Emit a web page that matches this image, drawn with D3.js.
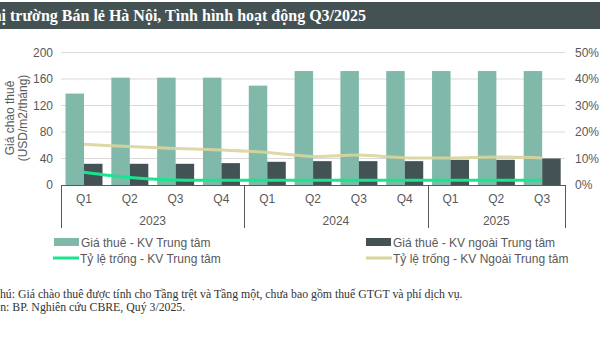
<!DOCTYPE html>
<html><head><meta charset="utf-8">
<script src="https://cdn.jsdelivr.net/npm/d3@7"></script>
<style>body{margin:0;background:#fff;}svg{display:block;}</style>
</head><body>
<svg id="c" width="600" height="338"></svg>
<script>
const quarters = ["Q1","Q2","Q3","Q4","Q1","Q2","Q3","Q4","Q1","Q2","Q3"];
const years = ["2023","2024","2025"];
const yearCounts = [4,4,3];
const rentCBD = [138,162,162,162,150,172,172,172,172,172,172];
const rentNonCBD = [32,32,32,33,35,36,36,36,38,38,40];
const vacCBD = [4.8,2.8,1.9,1.8,1.8,1.8,1.8,1.8,1.8,1.8,1.8];
const vacNonCBD = [15.4,14.5,13.8,13.2,12.3,10.8,11.3,10.3,10.2,10.6,10.2];
const leftTicks = [0,40,80,120,160,200];
const rightTicks = [0,10,20,30,40,50];
const legendLabels = ["Giá thuê - KV Trung tâm","Giá thuê - KV ngoài Trung tâm","Tỷ lệ trống - KV Trung tâm","Tỷ lệ trống - KV Ngoài Trung tâm"];
const title = "Thị trường Bán lẻ Hà Nội, Tình hình hoạt động Q3/2025";
const notes = ["Ghi chú: Giá chào thuê được tính cho Tầng trệt và Tầng một, chưa bao gồm thuế GTGT và phí dịch vụ.","Nguồn: BP. Nghiên cứu CBRE, Quý 3/2025."];

const C = {green:"#80B9A9", dark:"#435254", gline:"#1AE48D", bline:"#D9D49B", text:"#595959", axis:"#595959", grid:"#D9D9D9"};
const svg = d3.select("#c");
const L = 61, R = 565, T = 52.5, B = 185;

// title bar
svg.append("rect").attr("x",0).attr("y",2).attr("width",600).attr("height",27).attr("fill","#455254");
svg.append("text").attr("x",-18).attr("y",21).attr("fill","#fff")
  .attr("font-family","Liberation Serif").attr("font-weight","bold").attr("font-size",16).text(title);

const idx = d3.range(quarters.length);
const x = d3.scaleBand().domain(idx).range([L,R]).paddingInner(0).paddingOuter(0);
const y = d3.scaleLinear().domain([0,200]).range([B,T]);
const y2 = d3.scaleLinear().domain([0,50]).range([B,T]);

// grid
svg.append("g").selectAll("line").data(leftTicks.slice(1)).join("line")
  .attr("x1",L).attr("x2",R).attr("y1",d=>y(d)).attr("y2",d=>y(d))
  .attr("stroke",C.grid).attr("stroke-width",1);

// left axis labels
const yAxis = d3.axisLeft(y).tickValues(leftTicks).tickSize(0).tickPadding(8);
const gl = svg.append("g").attr("transform",`translate(${L},0)`).call(yAxis);
gl.select(".domain").remove();
gl.selectAll("text").attr("font-family","Liberation Sans").attr("font-size",12).attr("fill",C.text);

const yAxis2 = d3.axisRight(y2).tickValues(rightTicks).tickSize(0).tickPadding(10).tickFormat(d=>d+"%");
const gr = svg.append("g").attr("transform",`translate(${R},0)`).call(yAxis2);
gr.select(".domain").remove();
gr.selectAll("text").attr("font-family","Liberation Sans").attr("font-size",12).attr("fill",C.text);

// y title
const yt = svg.append("text").attr("transform","translate(14,118) rotate(-90)")
  .attr("text-anchor","middle").attr("font-family","Liberation Sans").attr("font-size",12).attr("fill",C.text);
yt.append("tspan").attr("x",0).attr("dy",0).text("Giá chào thuê");
yt.append("tspan").attr("x",0).attr("dy",13).text("(USD/m2/tháng)");

// bars
const bw = 18.5, off = 4.5;
svg.append("g").selectAll("rect").data(idx).join("rect")
  .attr("x",i=>x(i)+off).attr("width",bw).attr("y",i=>y(rentCBD[i])).attr("height",i=>y(0)-y(rentCBD[i]))
  .attr("fill",C.green);
svg.append("g").selectAll("rect").data(idx).join("rect")
  .attr("x",i=>x(i)+off+bw).attr("width",bw).attr("y",i=>y(rentNonCBD[i])).attr("height",i=>y(0)-y(rentNonCBD[i]))
  .attr("fill",C.dark);

// lines
const line = arr => d3.line().curve(d3.curveCatmullRom.alpha(0.5)).x(i=>x(i)+x.bandwidth()/2).y(i=>y2(arr[i]))(idx);
svg.append("path").attr("d",line(vacNonCBD)).attr("fill","none").attr("stroke",C.bline).attr("stroke-width",3).attr("stroke-opacity",0.9);
svg.append("path").attr("d",line(vacCBD)).attr("fill","none").attr("stroke",C.gline).attr("stroke-width",3);

// category axis
const ax = svg.append("g").attr("stroke",C.axis).attr("stroke-width",1);
ax.append("line").attr("x1",L).attr("x2",R).attr("y1",B+0.5).attr("y2",B+0.5);
let acc = 0;
const seps = [0];
yearCounts.forEach(c=>{acc+=c; seps.push(acc);});
seps.forEach(s=>{
  const xx = s===quarters.length ? R : x(s);
  ax.append("line").attr("x1",Math.round(xx)+0.5).attr("x2",Math.round(xx)+0.5).attr("y1",B).attr("y2",228);
});
svg.append("g").selectAll("text").data(idx).join("text")
  .attr("x",i=>x(i)+x.bandwidth()/2).attr("y",203).attr("text-anchor","middle")
  .attr("font-family","Liberation Sans").attr("font-size",12).attr("fill",C.text).text(i=>quarters[i]);
svg.append("g").selectAll("text").data(years).join("text")
  .attr("x",(d,j)=>{const a=x(seps[j]); const b= seps[j+1]===quarters.length?R:x(seps[j+1]); return (a+b)/2;})
  .attr("y",225).attr("text-anchor","middle")
  .attr("font-family","Liberation Sans").attr("font-size",12).attr("fill",C.text).text(d=>d);

// legend
const lg = svg.append("g").attr("font-family","Liberation Sans").attr("font-size",12).attr("fill",C.text);
const legItems = [
  {x:54,y:242,type:"rect",color:C.green},
  {x:366,y:242,type:"rect",color:C.dark},
  {x:53,y:258,type:"line",color:C.gline},
  {x:366,y:258,type:"line",color:C.bline}
];
legItems.forEach((it,k)=>{
  if(it.type==="rect") lg.append("rect").attr("x",it.x).attr("y",it.y-4).attr("width",25).attr("height",8).attr("fill",it.color);
  else lg.append("line").attr("x1",it.x).attr("x2",it.x+26).attr("y1",it.y).attr("y2",it.y).attr("stroke",it.color).attr("stroke-width",3);
  lg.append("text").attr("x",it.x+27).attr("y",it.y+4.5).text(legendLabels[k]);
});

// notes
svg.append("g").selectAll("text").data(notes).join("text")
  .attr("x",-26).attr("y",(d,i)=>298+i*12.5)
  .attr("font-family","Liberation Serif").attr("font-size",11.8).attr("fill","#333").text(d=>d);
</script>
</body></html>
